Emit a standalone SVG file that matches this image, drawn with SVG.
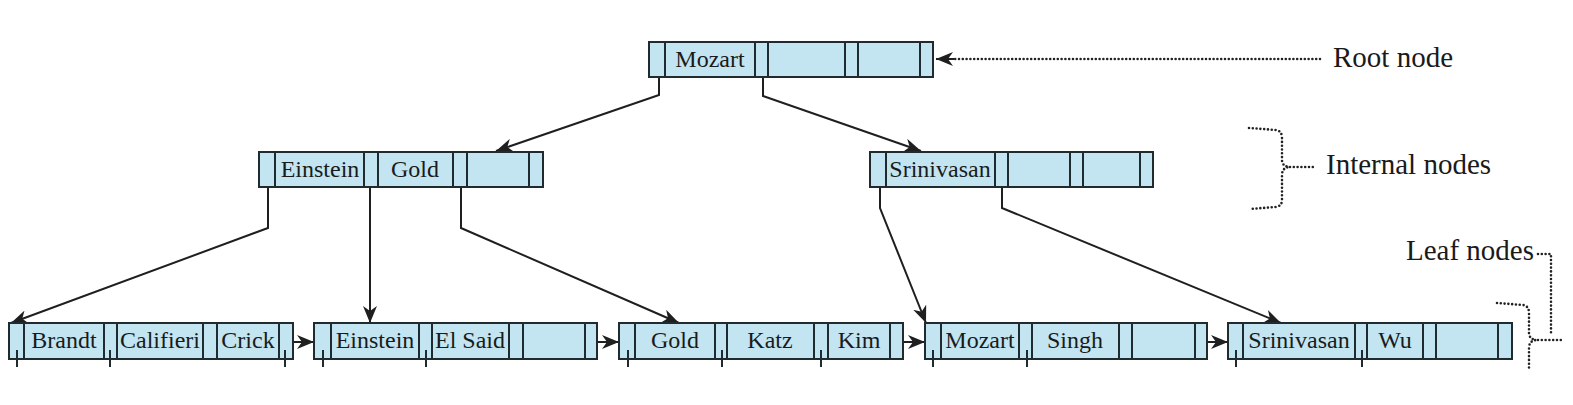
<svg xmlns="http://www.w3.org/2000/svg" width="1573" height="405" viewBox="0 0 1573 405">
<style>
.box{fill:#c2e5f1;stroke:#1f2b2e;stroke-width:2}
.div{stroke:#1f2b2e;stroke-width:2;fill:none}
.key{font-family:"Liberation Serif","Times New Roman",serif;font-size:24px;fill:#1a1a1a;text-anchor:middle}
.lbl{font-family:"Liberation Serif","Times New Roman",serif;font-size:29px;fill:#1a1a1a}
.edge{stroke:#1f1f1f;stroke-width:2;fill:none}
.dot{stroke:#222;stroke-width:2.6;fill:none;stroke-dasharray:0 3.8;stroke-linecap:round}
</style>
<defs>
<marker id="ah" markerUnits="userSpaceOnUse" markerWidth="18" markerHeight="14" refX="17" refY="7" orient="auto">
<path d="M0,0 L17,7 L0,14 L5,7 z" fill="#1f1f1f"/>
</marker>
</defs>
<rect width="1573" height="405" fill="#ffffff"/>

<g id="connectors">
<path class="edge" d="M659,67 L659,95 L496,151" marker-end="url(#ah)"/>
<path class="edge" d="M763,67 L763,96 L921,151" marker-end="url(#ah)"/>
<path class="edge" d="M268,178 L268,228 L11,323" marker-end="url(#ah)"/>
<path class="edge" d="M370,178 L370,323" marker-end="url(#ah)"/>
<path class="edge" d="M461,178 L461,228 L679,323" marker-end="url(#ah)"/>
<path class="edge" d="M880,178 L880,208 L926,323" marker-end="url(#ah)"/>
<path class="edge" d="M1002,178 L1002,208 L1281,323" marker-end="url(#ah)"/>
<path class="edge" d="M287,342 L314,342" marker-end="url(#ah)"/>
<path class="edge" d="M590,342 L619,342" marker-end="url(#ah)"/>
<path class="edge" d="M893,342 L925,342" marker-end="url(#ah)"/>
<path class="edge" d="M1200,342 L1228,342" marker-end="url(#ah)"/>
</g>

<g id="root">
<rect class="box" x="649" y="42" width="284" height="35"/>
<path class="div" d="M665,42V77M755,42V77M768,42V77M845,42V77M858,42V77M920,42V77"/>
<text class="key" x="710" y="67">Mozart</text>
</g>

<g id="internal-left">
<rect class="box" x="259" y="152" width="284" height="35"/>
<path class="div" d="M275,152V187M364,152V187M378,152V187M453,152V187M467,152V187M529,152V187"/>
<text class="key" x="320" y="177">Einstein</text>
<text class="key" x="415" y="177">Gold</text>
</g>

<g id="internal-right">
<rect class="box" x="870" y="152" width="283" height="35"/>
<path class="div" d="M886,152V187M995,152V187M1008,152V187M1070,152V187M1083,152V187M1140,152V187"/>
<text class="key" x="940" y="177">Srinivasan</text>
</g>

<g id="leaf1">
<rect class="box" x="9" y="323" width="284" height="36"/>
<path class="div" d="M24,323V359M104,323V359M117,323V359M203,323V359M217,323V359M279,323V359"/>
<path class="div" d="M17,350V367M110,350V367M285,350V367"/>
<text class="key" x="64" y="348">Brandt</text>
<text class="key" x="160" y="348">Califieri</text>
<text class="key" x="248" y="348">Crick</text>
</g>

<g id="leaf2">
<rect class="box" x="314" y="323" width="283" height="36"/>
<path class="div" d="M331,323V359M419,323V359M432,323V359M509,323V359M523,323V359M585,323V359"/>
<path class="div" d="M323,350V367M426,350V367"/>
<text class="key" x="375" y="348">Einstein</text>
<text class="key" x="470" y="348">El Said</text>
</g>

<g id="leaf3">
<rect class="box" x="619" y="323" width="284" height="36"/>
<path class="div" d="M635,323V359M715,323V359M727,323V359M814,323V359M828,323V359M890,323V359"/>
<path class="div" d="M628,350V367M722,350V367M821,350V367"/>
<text class="key" x="675" y="348">Gold</text>
<text class="key" x="770" y="348">Katz</text>
<text class="key" x="859" y="348">Kim</text>
</g>

<g id="leaf4">
<rect class="box" x="925" y="323" width="282" height="36"/>
<path class="div" d="M941,323V359M1019,323V359M1032,323V359M1119,323V359M1132,323V359M1195,323V359"/>
<path class="div" d="M933,350V367M1027,350V367"/>
<text class="key" x="980" y="348">Mozart</text>
<text class="key" x="1075" y="348">Singh</text>
</g>

<g id="leaf5">
<rect class="box" x="1228" y="323" width="284" height="36"/>
<path class="div" d="M1243,323V359M1355,323V359M1367,323V359M1423,323V359M1436,323V359M1498,323V359"/>
<path class="div" d="M1236,350V367M1362,350V367"/>
<text class="key" x="1299" y="348">Srinivasan</text>
<text class="key" x="1395" y="348">Wu</text>
</g>

<g id="label-root">
<path class="dot" d="M1320,59 L954,59"/>
<path class="edge" d="M954,59 L936,59" marker-end="url(#ah)"/>
<text class="lbl" x="1333" y="67">Root node</text>
</g>

<g id="label-internal">
<path class="dot" d="M1249,128 L1276,130 Q1282,131 1282,138 L1282,160 Q1282,166 1289,167 Q1282,168 1282,175 L1282,200 Q1282,206 1276,207 L1249,209"/>
<path class="dot" d="M1290,167 L1314,167"/>
<text class="lbl" x="1326" y="174">Internal nodes</text>
</g>

<g id="label-leaf">
<path class="dot" d="M1497,303 L1523,305 Q1529,306 1529,313 L1529,333 Q1529,339 1536,340 Q1529,341 1529,348 L1529,370"/>
<path class="dot" d="M1538,340 L1562,340"/>
<path class="dot" d="M1538,254 L1551,254 L1551,333"/>
<text class="lbl" x="1406" y="260">Leaf nodes</text>
</g>
</svg>
